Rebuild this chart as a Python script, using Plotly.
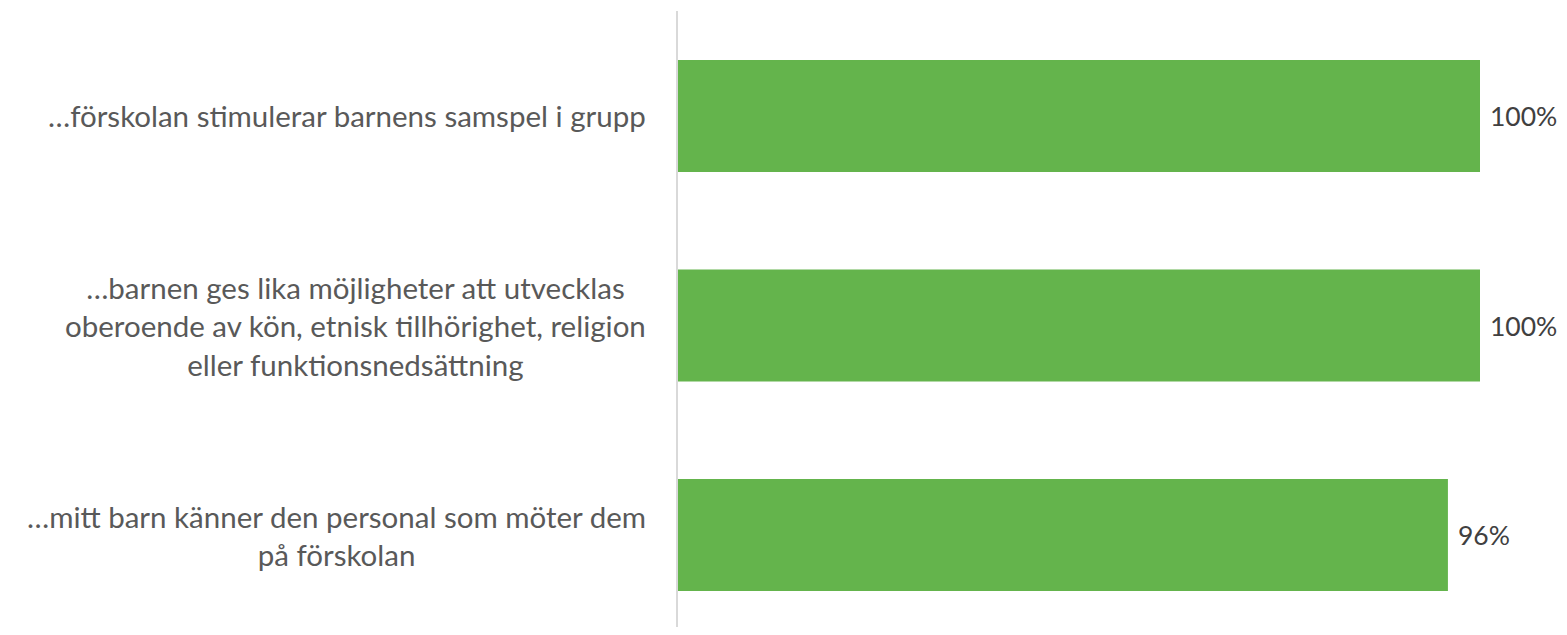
import plotly.graph_objects as go

categories = [
    "…förskolan stimulerar barnens samspel i grupp",
    "…barnen ges lika möjligheter att utvecklas<br>oberoende av kön, etnisk tillhörighet, religion<br>eller funktionsnedsättning",
    "…mitt barn känner den personal som möter dem<br>på förskolan",
]
values = [1.00, 1.00, 0.96]
value_labels = ["100%", "100%", "96%"]

FONT = "Lato"
TEXT_COLOR = "#595959"
BAR_COLOR = "#64B44C"

y_idx = list(range(len(categories)))

fig = go.Figure(
    go.Bar(
        x=values,
        y=y_idx,
        orientation="h",
        marker=dict(color=BAR_COLOR, line=dict(width=0)),
        width=0.535,
        hoverinfo="skip",
    )
)

for i, c in enumerate(categories):
    fig.add_annotation(
        x=0, y=i, xref="x", yref="y", text=c, showarrow=False,
        xanchor="right", yanchor="middle", align="center", xshift=-30,
        font=dict(family=FONT, size=29.5, color=TEXT_COLOR),
    )

for i, (v, t) in enumerate(zip(values, value_labels)):
    fig.add_annotation(
        x=v, y=i, xref="x", yref="y", text=t, showarrow=False,
        xanchor="left", yanchor="middle", xshift=8,
        font=dict(family=FONT, size=26.5, color="#404040"),
    )

fig.update_layout(
    width=1551, height=619,
    margin=dict(l=670, r=0, t=3, b=0),
    paper_bgcolor="white", plot_bgcolor="white",
    showlegend=False,
    xaxis=dict(range=[0, 1.0985], visible=False, fixedrange=True),
    yaxis=dict(range=[2.439, -0.501], showticklabels=False, showgrid=False,
               zeroline=False, showline=True, linecolor="#D9D9D9", linewidth=2,
               ticks="", fixedrange=True),
)

fig.write_html("out.html")
